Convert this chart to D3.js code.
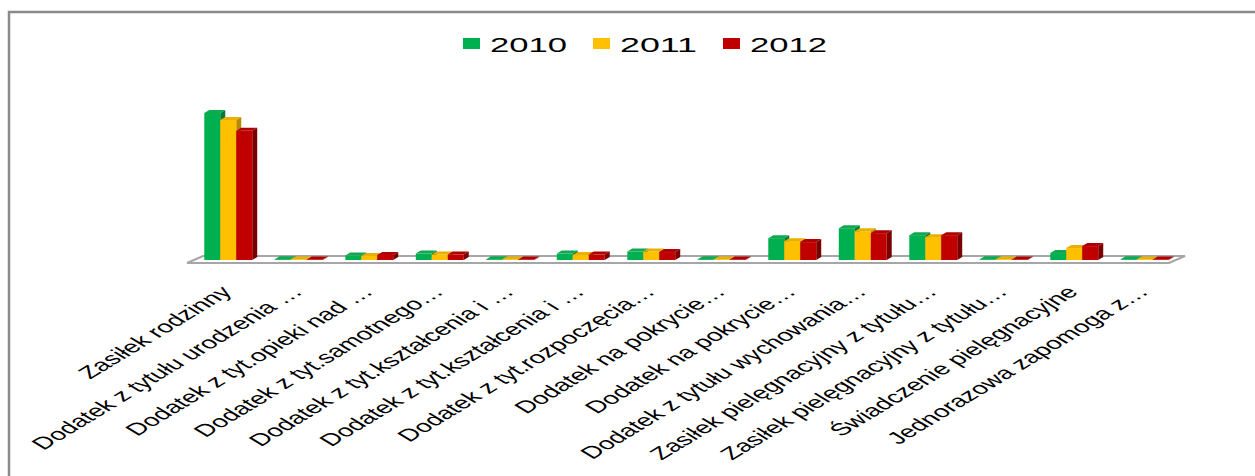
<!DOCTYPE html>
<html>
<head>
<meta charset="utf-8">
<script src="https://cdn.jsdelivr.net/npm/d3@7"></script>
<style>
  body { margin: 0; background: #fff; }
  text { font-family: "Liberation Sans", Arial, sans-serif; fill: #000; }
</style>
</head>
<body>
<svg width="1255" height="476"></svg>
<script>
// categories (labels as truncated in the chart)
var categories = [
  "Zasiłek rodzinny",
  "Dodatek z tytułu urodzenia …",
  "Dodatek z tyt.opieki nad …",
  "Dodatek z tyt.samotnego…",
  "Dodatek z tyt.kształcenia i …",
  "Dodatek z tyt.kształcenia i …",
  "Dodatek z tyt.rozpoczęcia…",
  "Dodatek na pokrycie…",
  "Dodatek na pokrycie…",
  "Dodatek z tytułu wychowania…",
  "Zasiłek pielęgnacyjny z tytułu…",
  "Zasiłek pielęgnacyjny z tytułu…",
  "Świadczenie pielęgnacyjne",
  "Jednorazowa zapomoga z…"
];
var years = ["2010", "2011", "2012"];

var values2010 = [148, 0.8, 4.5, 6.5, 0.8, 6.5, 8.5, 0.8, 22, 32, 25, 0.8, 7, 0.8];
var values2011 = [141, 0.6, 4, 5.5, 0.6, 5, 8.5, 0.6, 19, 29, 23, 0.6, 12, 0.6];
var values2012 = [130, 0.6, 5, 5.5, 0.6, 5.5, 8, 0.6, 18, 27, 25, 0.6, 14, 0.6];

var colors = ["#00b050", "#ffc000", "#c00000"];
var sideColors = ["#007a38", "#b88a00", "#7a0000"];
var topColors = ["#10a850", "#e8b000", "#b00000"];

var series = [values2010, values2011, values2012];

var svg = d3.select("svg");

// outer frame
svg.append("rect")
    .attr("x", 9).attr("y", 12)
    .attr("width", 1400).attr("height", 600)
    .attr("fill", "none")
    .attr("stroke", "#8a8a8a")
    .attr("stroke-width", 2.5);

var x = d3.scaleBand()
    .domain(d3.range(categories.length))
    .range([193, 1180])
    .paddingInner(0.32)
    .paddingOuter(0.16);

var xs = d3.scaleBand()
    .domain(years)
    .range([0, x.bandwidth()]);

var y = d3.scaleLinear()
    .domain([0, 150])
    .range([260, 111]);

var dx = 5, dy = 3;

// floor
var r = x.range();
svg.append("polygon")
    .attr("points", [[r[0] - 6, 263], [r[1] - 11, 263], [r[1] + 5, 256], [r[0] + 10, 256]].join(" "))
    .attr("fill", "#fff")
    .attr("stroke", "#a6a6a6")
    .attr("stroke-width", 2);

// bars
var groups = svg.append("g").selectAll("g")
    .data(categories.map(function(c, i) { return i; }))
    .enter().append("g");

groups.each(function(i) {
  var g = d3.select(this);
  years.forEach(function(yr, k) {
    var x0 = x(i) + xs(yr), w = xs.bandwidth();
    var yt = y(series[k][i]), yb = y(0);
    g.append("polygon")
        .attr("points", [[x0 + w, yb], [x0 + w + dx, yb - dy], [x0 + w + dx, yt - dy], [x0 + w, yt]].join(" "))
        .attr("fill", sideColors[k]);
    g.append("rect")
        .attr("x", x0).attr("y", yt)
        .attr("width", w).attr("height", yb - yt)
        .attr("fill", colors[k]);
    g.append("polygon")
        .attr("points", [[x0, yt], [x0 + dx, yt - dy], [x0 + w + dx, yt - dy], [x0 + w, yt]].join(" "))
        .attr("fill", topColors[k]);
  });
});

// category labels, rotated and stretched like the original
svg.append("g").selectAll("text")
    .data(categories)
    .enter().append("text")
    .attr("transform", function(d, i) {
      return "translate(" + (x(i) + x.bandwidth() / 2 + 5) + ",293) scale(1.65,1) rotate(-45)";
    })
    .attr("text-anchor", "end")
    .style("font-size", "17px")
    .text(function(d) { return d; });

// legend
var legendX = [463, 593, 723];
var legend = svg.append("g").selectAll("g")
    .data(years)
    .enter().append("g")
    .attr("transform", function(d, k) { return "translate(" + legendX[k] + ",0)"; });

legend.append("rect")
    .attr("x", 0).attr("y", 38)
    .attr("width", 17).attr("height", 11)
    .attr("fill", function(d, k) { return colors[k]; });

legend.append("text")
    .attr("x", 27).attr("y", 52)
    .attr("textLength", 77)
    .attr("lengthAdjust", "spacingAndGlyphs")
    .style("font-size", "21px")
    .text(function(d) { return d; });
</script>
</body>
</html>
